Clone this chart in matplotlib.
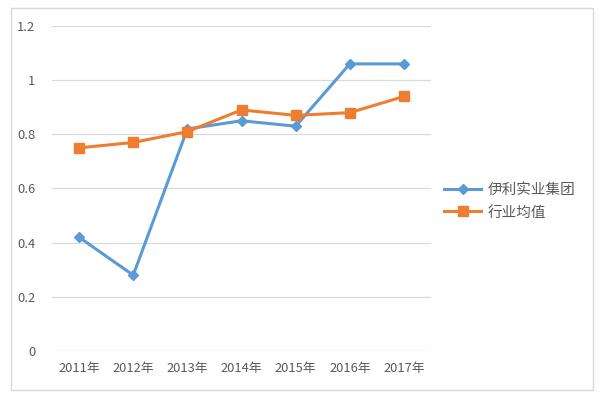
import matplotlib
matplotlib.use("Agg")
import matplotlib.pyplot as plt
from matplotlib.patches import Rectangle

plt.rcParams['font.family'] = ['Noto Sans CJK SC', 'DejaVu Sans']

# === DADOS ===
anos = ['2011年', '2012年', '2013年', '2014年', '2015年', '2016年', '2017年']
yili = [0.42, 0.28, 0.82, 0.85, 0.83, 1.06, 1.06]
media = [0.75, 0.77, 0.81, 0.89, 0.87, 0.88, 0.94]
nomes = ['伊利实业集团', '行业均值']

AZUL = '#5B9BD5'
LARANJA = '#ED7D31'
CINZA = '#595959'

fig = plt.figure(figsize=(6.02, 3.95), dpi=100)
ax = fig.add_axes([0.0864, 0.1114, 0.6296, 0.8228])

x = range(len(anos))
ax.plot(x, yili, color=AZUL, lw=2.2, marker='D', ms=5, label=nomes[0])
ax.plot(x, media, color=LARANJA, lw=2.2, marker='s', ms=7, label=nomes[1])

ax.set_xlim(-0.5, len(anos) - 0.5)
ax.set_ylim(0, 1.2)
ax.set_yticks([0, 0.2, 0.4, 0.6, 0.8, 1.0, 1.2])
ax.set_yticklabels(['0', '0.2', '0.4', '0.6', '0.8', '1', '1.2'])
ax.set_xticks(list(x))
ax.set_xticklabels(anos)
ax.grid(axis='y', color='#D9D9D9', lw=0.9)
ax.set_axisbelow(True)
for s in ax.spines.values():
    s.set_visible(False)
ax.tick_params(length=0, colors=CINZA, labelsize=9.3, pad=8)
ax.tick_params(axis='y', pad=12)

leg = fig.legend(loc='center left', bbox_to_anchor=(0.715, 0.49), frameon=False,
                 fontsize=10.5, handlelength=2.6, labelspacing=0.55, handletextpad=0.4)
for t in leg.get_texts():
    t.set_color(CINZA)

# borda externa
fig.patches.append(Rectangle((11 / 602, 5 / 395), 582 / 602, 382 / 395,
                             transform=fig.transFigure, fill=False,
                             edgecolor='#D9D9D9', lw=1))

fig.savefig('out.png', dpi=100)
